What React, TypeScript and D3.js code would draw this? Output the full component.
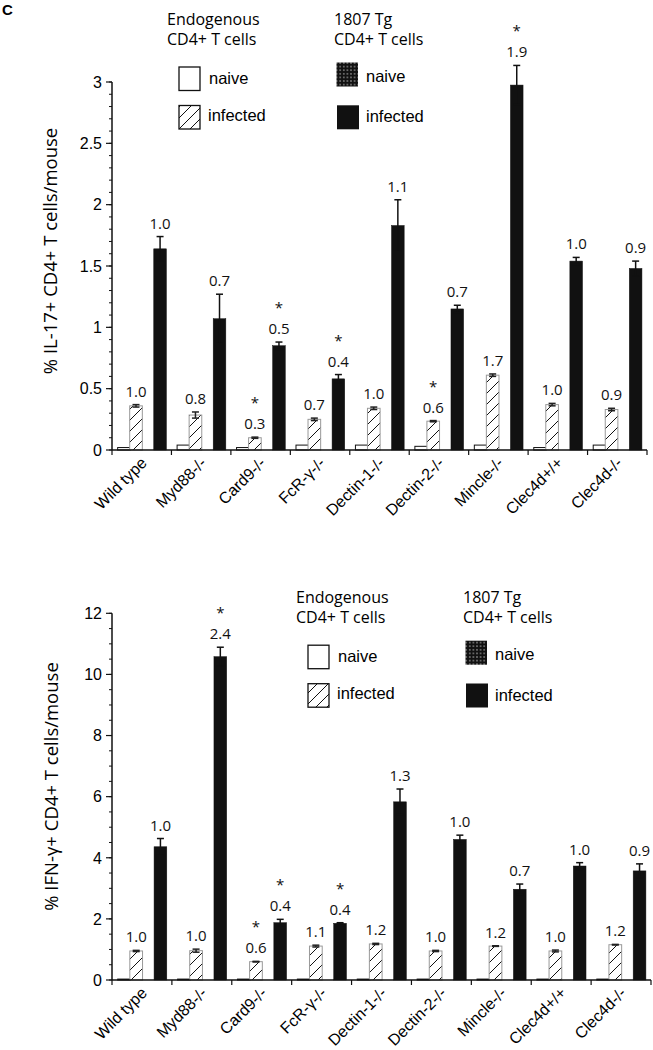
import React from "react";
import * as d3 from "d3";

// genotypes along the x axis (same for both panels)
const categories = [
  "Wild type",
  "Myd88-/-",
  "Card9-/-",
  "FcR-γ-/-",
  "Dectin-1-/-",
  "Dectin-2-/-",
  "Mincle-/-",
  "Clec4d+/+",
  "Clec4d-/-",
];
const groups = ["endoNaive", "endoInfected", "tgNaive", "tgInfected"];

// panel 1: % IL-17+ CD4+ T cells/mouse
const il17EndoNaive = [0.02, 0.04, 0.02, 0.04, 0.04, 0.03, 0.04, 0.02, 0.04];
const il17EndoInfected = [0.36, 0.285, 0.1, 0.25, 0.34, 0.235, 0.61, 0.37, 0.33];
const il17EndoErr = [0.01, 0.025, 0.005, 0.01, 0.01, 0.005, 0.01, 0.01, 0.01];
const il17TgNaive = [0, 0, 0, 0, 0, 0, 0, 0, 0];
const il17TgInfected = [1.64, 1.07, 0.85, 0.58, 1.83, 1.15, 2.975, 1.54, 1.48];
const il17TgErr = [0.1, 0.2, 0.03, 0.035, 0.21, 0.03, 0.16, 0.03, 0.06];
const il17EndoLabels = ["1.0", "0.8", "0.3", "0.7", "1.0", "0.6", "1.7", "1.0", "0.9"];
const il17EndoStars = [false, false, true, false, false, true, false, false, false];
const il17TgLabels = ["1.0", "0.7", "0.5", "0.4", "1.1", "0.7", "1.9", "1.0", "0.9"];
const il17TgStars = [false, false, true, true, false, false, true, false, false];
const il17Ticks = [0, 0.5, 1, 1.5, 2, 2.5, 3];

// panel 2: % IFN-γ+ CD4+ T cells/mouse
const ifnEndoNaive = [0.03, 0.03, 0.03, 0.03, 0.03, 0.03, 0.03, 0.03, 0.03];
const ifnEndoInfected = [0.95, 0.96, 0.6, 1.11, 1.18, 0.95, 1.11, 0.95, 1.155];
const ifnEndoErr = [0.02, 0.05, 0.01, 0.03, 0.02, 0.02, 0.01, 0.03, 0.01];
const ifnTgNaive = [0, 0, 0, 0, 0, 0, 0, 0, 0];
const ifnTgInfected = [4.36, 10.58, 1.875, 1.855, 5.83, 4.6, 2.97, 3.73, 3.57];
const ifnTgErr = [0.27, 0.31, 0.11, 0.02, 0.42, 0.14, 0.17, 0.11, 0.23];
const ifnEndoLabels = ["1.0", "1.0", "0.6", "1.1", "1.2", "1.0", "1.2", "1.0", "1.2"];
const ifnEndoStars = [false, false, true, false, false, false, false, false, false];
const ifnTgLabels = ["1.0", "2.4", "0.4", "0.4", "1.3", "1.0", "0.7", "1.0", "0.9"];
const ifnTgStars = [false, true, true, true, false, false, false, false, false];
const ifnTicks = [0, 2, 4, 6, 8, 10, 12];

const legendTitles = [["Endogenous", "CD4+ T cells"], ["1807 Tg", "CD4+ T cells"]];
const legendItems = ["naive", "infected"];

const SANS = "'Liberation Sans', Arial, sans-serif";
const MYRIAD = "'Open Sans', 'Noto Sans', sans-serif";

function Legend({ endoX, tgX, y }) {
  return (
    <g>
      {legendTitles[0].map((t, i) => (
        <text key={"e" + i} x={endoX} y={y + i * 20.5} fontFamily={MYRIAD} fontSize={16}>{t}</text>
      ))}
      {legendTitles[1].map((t, i) => (
        <text key={"t" + i} x={tgX} y={y + i * 20.5} fontFamily={MYRIAD} fontSize={16}>{t}</text>
      ))}
      <rect x={endoX + 12} y={y + 42.5} width={21} height={23.5} fill="white" stroke="#111" strokeWidth={1.3} />
      <rect x={endoX + 12} y={y + 81} width={21} height={23.5} fill="url(#hatch)" stroke="#111" strokeWidth={1.3} />
      <text x={endoX + 42} y={y + 59} fontFamily={SANS} fontSize={16.5}>{legendItems[0]}</text>
      <text x={endoX + 41} y={y + 96.5} fontFamily={SANS} fontSize={16.5}>{legendItems[1]}</text>
      <rect x={tgX + 2.5} y={y + 38} width={21.5} height={24} fill="url(#dots)" />
      <rect x={tgX + 3} y={y + 80.8} width={22} height={24} fill="#111" />
      <text x={tgX + 32} y={y + 57.2} fontFamily={SANS} fontSize={16.5}>{legendItems[0]}</text>
      <text x={tgX + 32} y={y + 97.8} fontFamily={SANS} fontSize={16.5}>{legendItems[1]}</text>
    </g>
  );
}

function Panel({ xRange, yRange, domain, ticks, minorStep, series, yLabel, labelCenter, legend }) {
  const y = d3.scaleLinear().domain(domain).range(yRange);
  const x = d3.scaleBand().domain(categories).range(xRange).padding(0);
  const sub = d3.scaleBand().domain(groups).range([0, x.bandwidth()]).paddingInner(0).paddingOuter(0.47);
  const minor = d3.range(domain[0], domain[1] + 1e-9, minorStep);
  const fmt = d3.format("~g");
  const y0 = y(0);
  const bw = sub.bandwidth() + 0.6;

  const barStyle = {
    endoNaive: { fill: "white", stroke: "#111", sw: 1 },
    endoInfected: { fill: "url(#hatch)", stroke: "#999", sw: 1 },
    tgNaive: { fill: "url(#dots)", stroke: "none", sw: 0 },
    tgInfected: { fill: "#111", stroke: "#111", sw: 0.5 },
  };

  return (
    <g>
      {categories.map((c, i) =>
        groups.map((g) => {
          const v = series[g][i];
          if (!v) return null;
          const st = barStyle[g];
          return (
            <rect
              key={c + g}
              x={x(c) + sub(g)}
              y={y(v)}
              width={bw}
              height={y0 - y(v)}
              fill={st.fill}
              stroke={st.stroke}
              strokeWidth={st.sw}
            />
          );
        })
      )}
      {/* error bars */}
      {categories.map((c, i) =>
        [["endoInfected", series.endoErr], ["tgInfected", series.tgErr]].map(([g, errs]) => {
          const v = series[g][i];
          const e = errs[i];
          const cx = x(c) + sub(g) + bw / 2;
          const col = g === "tgInfected" ? "#111" : "#222";
          return (
            <g key={c + g + "err"} stroke={col} strokeWidth={1.5}>
              <line x1={cx} x2={cx} y1={y(v - e)} y2={y(v + e)} />
              <line x1={cx - 3.5} x2={cx + 3.5} y1={y(v + e)} y2={y(v + e)} />
              <line x1={cx - 3.5} x2={cx + 3.5} y1={y(v - e)} y2={y(v - e)} />
            </g>
          );
        })
      )}
      {/* fold-change labels and asterisks */}
      {categories.map((c, i) =>
        [
          ["endoInfected", series.endoErr, series.endoLabels, series.endoStars],
          ["tgInfected", series.tgErr, series.tgLabels, series.tgStars],
        ].map(([g, errs, labs, stars]) => {
          const top = y(series[g][i] + errs[i]);
          const cx = x(c) + sub(g) + bw / 2;
          return (
            <g key={c + g + "lab"} fontFamily={MYRIAD} fontSize={15} textAnchor="middle" fill="#111">
              <text x={cx} y={top - 8}>{labs[i]}</text>
              {stars[i] && <text x={cx} y={top - 29}>*</text>}
            </g>
          );
        })
      )}
      {/* y axis */}
      <line x1={xRange[0]} x2={xRange[0]} y1={y0} y2={yRange[1]} stroke="#111" strokeWidth={1.5} />
      {minor.map((t) => (
        <line key={"m" + t} x1={xRange[0] - 3} x2={xRange[0]} y1={y(t)} y2={y(t)} stroke="#111" strokeWidth={1} />
      ))}
      {ticks.map((t) => (
        <g key={"t" + t}>
          <line x1={xRange[0] - 6} x2={xRange[0]} y1={y(t)} y2={y(t)} stroke="#111" strokeWidth={1.2} />
          <text x={xRange[0] - 10} y={y(t)} dy="0.36em" textAnchor="end" fontFamily={SANS} fontSize={16}>
            {fmt(t)}
          </text>
        </g>
      ))}
      <text
        transform={`translate(${labelCenter[0]},${labelCenter[1]}) rotate(-90)`}
        textAnchor="middle"
        fontFamily={MYRIAD}
        fontSize={18.5}
      >
        {yLabel}
      </text>
      {/* x axis */}
      <line x1={xRange[0]} x2={xRange[1]} y1={y0} y2={y0} stroke="#111" strokeWidth={1.5} />
      {[...categories.map((c) => x(c)), xRange[1]].map((px, i) => (
        <line key={"xt" + i} x1={px} x2={px} y1={y0} y2={y0 + 5} stroke="#111" strokeWidth={1.2} />
      ))}
      {categories.map((c) => (
        <text
          key={"xl" + c}
          transform={`translate(${x(c) + x.bandwidth() / 2 + 6},${y0 + 14}) rotate(-45)`}
          textAnchor="end"
          fontFamily={SANS}
          fontSize={16}
        >
          {c}
        </text>
      ))}
      <Legend endoX={legend[0]} tgX={legend[1]} y={legend[2]} />
    </g>
  );
}

export default function App() {
  return (
    <svg
      width={653}
      height={1050}
      style={{ position: "absolute", left: 0, top: 0, background: "white" }}
    >
      <defs>
        <pattern id="hatch" patternUnits="userSpaceOnUse" width={11} height={11}>
          <rect width={11} height={11} fill="white" />
          <path d="M-1,1 L1,-1 M0,11 L11,0 M10,12 L12,10" stroke="#111" strokeWidth={1} />
        </pattern>
        <pattern id="dots" patternUnits="userSpaceOnUse" width={3.6} height={3.6}>
          <rect width={3.6} height={3.6} fill="#111" />
          <circle cx={1.8} cy={1.8} r={0.6} fill="white" />
        </pattern>
      </defs>
      <text x={2} y={15} fontFamily={SANS} fontWeight="bold" fontSize={15}>C</text>
      <Panel
        xRange={[112, 647]}
        yRange={[450, 82]}
        domain={[0, 3]}
        ticks={il17Ticks}
        minorStep={0.1}
        series={{
          endoNaive: il17EndoNaive,
          endoInfected: il17EndoInfected,
          tgNaive: il17TgNaive,
          tgInfected: il17TgInfected,
          endoErr: il17EndoErr,
          tgErr: il17TgErr,
          endoLabels: il17EndoLabels,
          endoStars: il17EndoStars,
          tgLabels: il17TgLabels,
          tgStars: il17TgStars,
        }}
        yLabel="% IL-17+ CD4+ T cells/mouse"
        labelCenter={[57, 251]}
        legend={[167, 334, 24.5]}
      />
      <Panel
        xRange={[112, 651]}
        yRange={[980, 613.3]}
        domain={[0, 12]}
        ticks={ifnTicks}
        minorStep={0.5}
        series={{
          endoNaive: ifnEndoNaive,
          endoInfected: ifnEndoInfected,
          tgNaive: ifnTgNaive,
          tgInfected: ifnTgInfected,
          endoErr: ifnEndoErr,
          tgErr: ifnTgErr,
          endoLabels: ifnEndoLabels,
          endoStars: ifnEndoStars,
          tgLabels: ifnTgLabels,
          tgStars: ifnTgStars,
        }}
        yLabel="% IFN-γ+ CD4+ T cells/mouse"
        labelCenter={[58, 786.5]}
        legend={[296, 463, 602.7]}
      />
    </svg>
  );
}
